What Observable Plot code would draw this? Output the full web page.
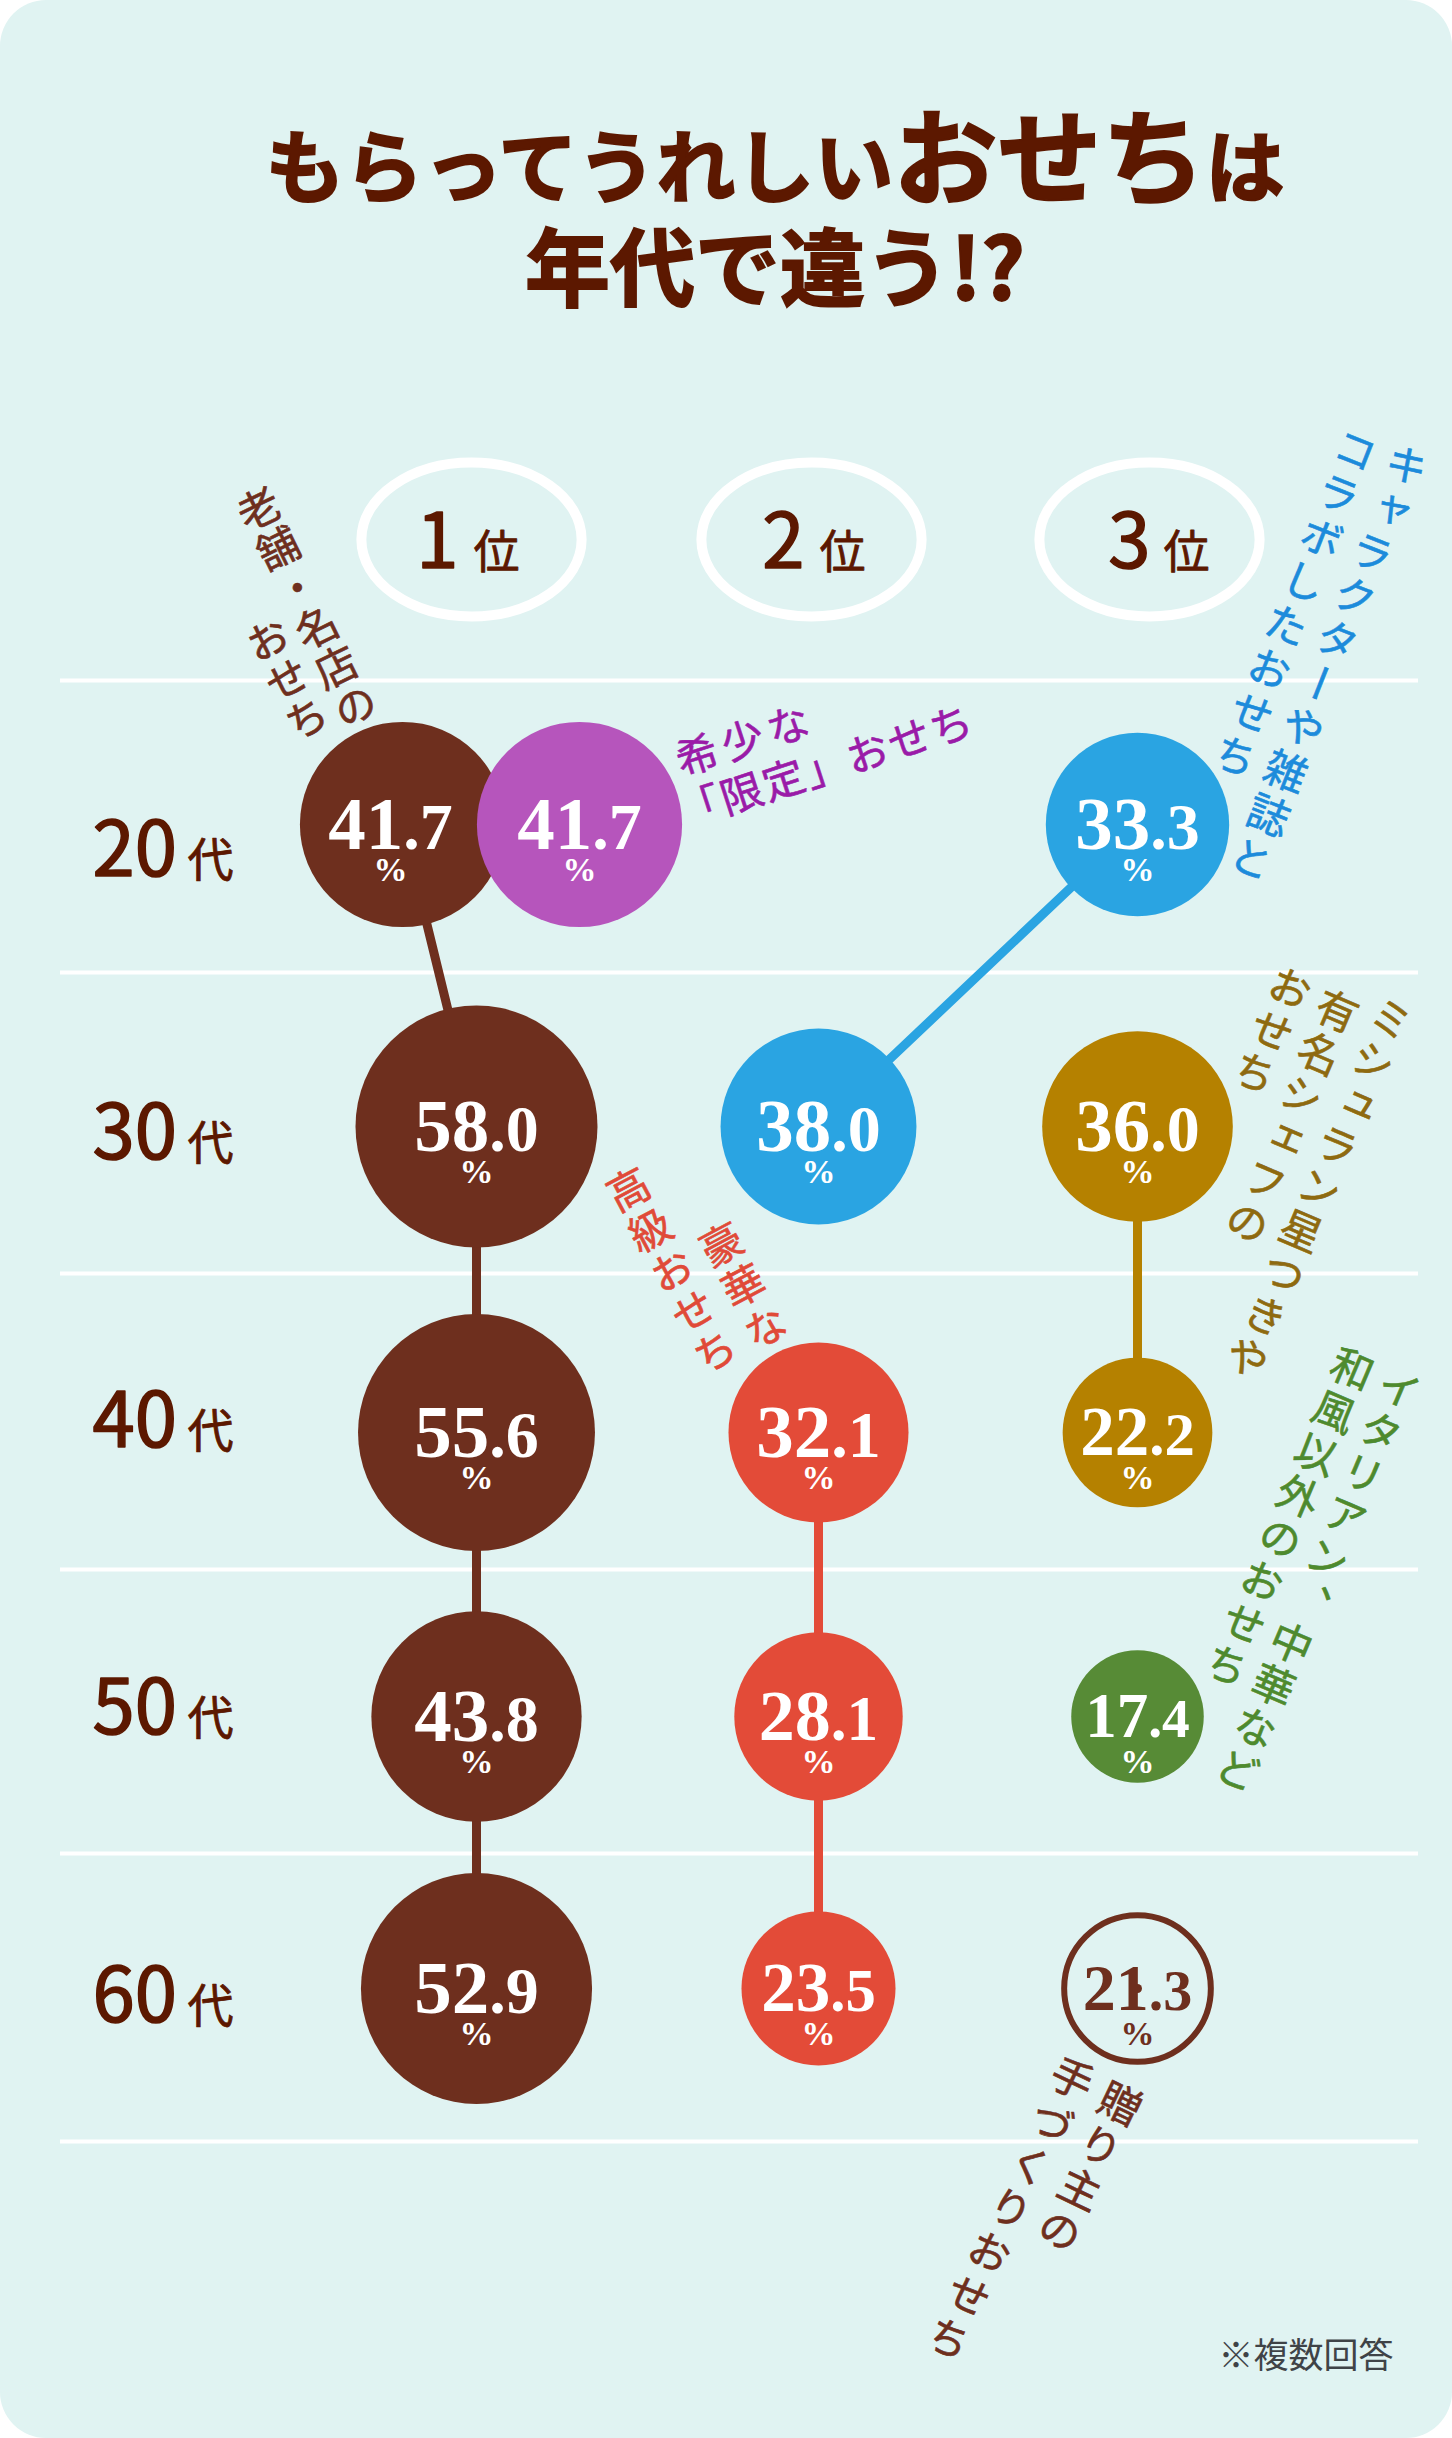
<!DOCTYPE html>
<html lang="ja">
<head>
<meta charset="utf-8">
<script src="https://cdn.jsdelivr.net/npm/d3@7"></script>
<script src="https://cdn.jsdelivr.net/npm/@observablehq/plot@0.6"></script>
<style>
  html, body { margin: 0; padding: 0; background: #fff; }
  #card { position: relative; width: 1452px; height: 2438px; background: #e0f3f2; border-radius: 46px; overflow: hidden; }
  #card svg { position: absolute; left: 0; top: 0; }
  #title { position: absolute; left: 98px; width: 1354px; top: 96px; margin: 0; z-index: 2; text-align: center; color: #5c1800;
    font-family: "Noto Sans CJK JP", sans-serif; font-weight: 700; font-size: 79px; line-height: 112px; -webkit-text-stroke: 2px #5c1800; }
  #title .big { font-size: 104px; }
  #title .l2 { font-size: 85px; display: block; margin-top: -12px; }
</style>
</head>
<body>
<div id="card">
  <h1 id="title"><span>もらってうれしい<span class="big">おせち</span>は</span><span class="l2">年代で違う!?</span></h1>
</div>
<script>
// ---------- data ----------
const ages = [20, 30, 40, 50, 60];
const rowLabels = ["20", "30", "40", "50", "60"];
const rankLabels = ["1", "2", "3"];

const seriesNames = ["老舗", "限定", "キャラ", "高級", "ミシュラン", "イタリアン", "手づくり"];

const shiniseAges = [20, 30, 40, 50, 60];
const shiniseRanks = [0.75, 1, 1, 1, 1];
const shiniseValues = [41.7, 58.0, 55.6, 43.8, 52.9];

const genteiAges = [20];
const genteiRanks = [1.25];
const genteiValues = [41.7];

const charaAges = [20, 30];
const charaRanks = [3, 2];
const charaValues = [33.3, 38.0];

const koukyuAges = [40, 50, 60];
const koukyuRanks = [2, 2, 2];
const koukyuValues = [32.1, 28.1, 23.5];

const michelinAges = [30, 40];
const michelinRanks = [3, 3];
const michelinValues = [36.0, 22.2];

const italianAges = [50];
const italianRanks = [3];
const italianValues = [17.4];

const tedukuriAges = [60];
const tedukuriRanks = [3];
const tedukuriValues = [21.3];

// ---------- styling ----------
const seriesFill = ["#6e2f1e", "#b655bc", "#2aa4e2", "#e34b38", "#b58100", "#578b36", "#6e2f1e"];
const BROWN = "#6e2f1e", DARK = "#5c1800";
const JP = "'Noto Sans CJK JP', sans-serif";
const SERIF = "'Liberation Serif', serif";

const table = [
  [shiniseAges, shiniseRanks, shiniseValues],
  [genteiAges, genteiRanks, genteiValues],
  [charaAges, charaRanks, charaValues],
  [koukyuAges, koukyuRanks, koukyuValues],
  [michelinAges, michelinRanks, michelinValues],
  [italianAges, italianRanks, italianValues],
  [tedukuriAges, tedukuriRanks, tedukuriValues]
].flatMap(([a, r, v], s) => a.map((age, i) => ({series: seriesNames[s], age, rank: r[i], value: v[i]})));

const hollow = d => d.series === "手づくり";
const solid = table.filter(d => !hollow(d));
const numberSize = d3.scaleThreshold([20, 24, 30], [63, 69, 72, 75]);
const labelRank = d => d.rank === 0.75 ? 0.7 : d.rank;
const ink = d => hollow(d) ? BROWN : "#fff";

// Ellipse symbol for the header rings
const ring = {draw(c, size) {
  const ry = Math.sqrt(size / Math.PI), rx = ry * 1.43, k = 0.5523;
  c.moveTo(rx, 0);
  c.bezierCurveTo(rx, k * ry, k * rx, ry, 0, ry);
  c.bezierCurveTo(-k * rx, ry, -rx, k * ry, -rx, 0);
  c.bezierCurveTo(-rx, -k * ry, -k * rx, -ry, 0, -ry);
  c.bezierCurveTo(k * rx, -ry, rx, -k * ry, rx, 0);
  c.closePath();
}};

// Tweak rendered text nodes
const tweak = fn => (i, s, v, d, c, next) => {
  const g = next(i, s, v, d, c);
  g.querySelectorAll("text").forEach(fn);
  return g;
};
const splitDecimal = t => {
  const str = t.textContent, at = str.indexOf(".");
  const size = parseFloat(t.getAttribute("font-size"));
  t.textContent = str.slice(0, at);
  const sp = document.createElementNS("http://www.w3.org/2000/svg", "tspan");
  sp.setAttribute("font-size", size * 0.88);
  sp.textContent = str.slice(at);
  t.appendChild(sp);
};
const vertical = ls => t => {
  t.style.writingMode = "vertical-rl";
  t.style.letterSpacing = ls + "px";
};
const spaced = ls => t => { t.style.letterSpacing = ls + "px"; };

const vlabel = (text, age, rank, dx, dy, rotate, fill, ls = 4, fontSize = 42) =>
  Plot.text([text], {x: () => rank, y: () => age, text: d => d, dx, dy, rotate, fill, stroke: fill, strokeWidth: 0.6, fontSize, fontFamily: JP,
    textAnchor: "start", lineAnchor: "bottom", render: tweak(vertical(ls))});
const hlabel = (text, age, rank, dx, dy, rotate, fill, ls = 3, fontSize = 42) =>
  Plot.text([text], {x: () => rank, y: () => age, text: d => d, dx, dy, rotate, fill, stroke: fill, strokeWidth: 0.6, fontSize, fontFamily: JP,
    textAnchor: "start", lineAnchor: "middle", render: tweak(spaced(ls))});

const rowShift = [51, 32, 14, 17, 33];
const headerOffset = [[-18, -3, -5], [-14, 1, -7], [13, 26, 12]];

const chart = Plot.plot({
  width: 1452,
  height: 2438,
  margin: 0,
  style: {background: "transparent", overflow: "visible"},
  x: {type: "linear", axis: null,
      domain: [0, 0.7, 0.75, 1, 1.25, 2, 3, 4],
      range: [60, 390, 402, 476, 579, 818, 1137, 1418]},
  y: {type: "linear", axis: null,
      domain: [10, 15, 20, 25, 30, 35, 40, 45, 50, 55, 60, 65, 70],
      range: [539, 680, 824, 972, 1126, 1273, 1432, 1569, 1716, 1853, 1988, 2141, 2356]},
  r: {type: "sqrt", domain: [0, 58], range: [0, 121]},
  color: {type: "ordinal", domain: seriesNames, range: seriesFill},
  marks: [
    // grid
    Plot.ruleY([15, 25, 35, 45, 55, 65], {x1: () => 0, x2: () => 4, stroke: "#fff", strokeWidth: 4}),
    // header rings
    ...rankLabels.map((label, i) => [
      Plot.dot([label], {x: () => i + 1, y: () => 10, dx: headerOffset[i][2], r: 77, symbol: ring, fill: "none", stroke: "#fff", strokeWidth: 10}),
      Plot.text([label], {x: () => i + 1, y: () => 10, dx: headerOffset[i][0], dy: 28, text: d => d, textAnchor: "end", lineAnchor: "bottom", fontSize: 76, fontFamily: JP, fill: DARK, stroke: DARK, strokeWidth: 1.6}),
      Plot.text(["位"], {x: () => i + 1, y: () => 10, dx: headerOffset[i][1], dy: 28, text: d => d, textAnchor: "start", lineAnchor: "bottom", fontSize: 46, fontFamily: JP, fill: DARK, stroke: DARK, strokeWidth: 0.8})
    ]),
    // row labels
    ...rowLabels.map((label, i) => [
      Plot.text([label], {x: () => 0, y: () => ages[i], dx: 32, dy: rowShift[i], text: d => d, textAnchor: "start", lineAnchor: "bottom", fontSize: 76, fontFamily: JP, fill: DARK, stroke: DARK, strokeWidth: 1.6}),
      Plot.text(["代"], {x: () => 0, y: () => ages[i], dx: 127, dy: rowShift[i], text: d => d, textAnchor: "start", lineAnchor: "bottom", fontSize: 46, fontFamily: JP, fill: DARK, stroke: DARK, strokeWidth: 0.8})
    ]),
    // connectors
    Plot.line(table, {x: "rank", y: "age", z: "series", stroke: "series", strokeWidth: 9}),
    // circles
    Plot.dot(solid, {x: "rank", y: "age", r: "value", fill: "series"}),
    Plot.dot(table.filter(hollow), {x: "rank", y: "age", r: "value", fill: "none", stroke: BROWN, strokeWidth: 6}),
    // values
    Plot.text(table, {x: labelRank, y: "age", text: d => d.value.toFixed(1), fill: ink, fontFamily: SERIF, fontWeight: 700,
      fontSize: d => hollow(d) ? 66 : numberSize(d.value), render: tweak(splitDecimal)}),
    Plot.text(table, {x: labelRank, y: "age", dy: 46, text: () => "%", fill: ink, fontFamily: SERIF, fontWeight: 700, fontSize: 34}),
    // series labels
    vlabel("老舗・名店の", 20, 0.75, -153, -335, -26, BROWN, 2),
    vlabel("おせち", 20, 0.75, -144, -204, -26, BROWN, 2),
    hlabel("希少な", 20, 1.25, 98, -61, -18, "#9a1ba8", 6),
    hlabel("「限定」おせち", 20, 1.25, 101, -9, -18, "#9a1ba8", 2),
    vlabel("キャラクターや雑誌と", 20, 3, 277, -379, 21.5, "#1c8bdb", 5),
    vlabel("コラボしたおせち", 20, 3, 226, -394, 21.5, "#1c8bdb", 5),
    vlabel("ミシュラン星つきや", 30, 3, 262, -127, 23, "#8e6a10", 4),
    vlabel("有名シェフの", 30, 3, 208, -135, 23, "#8e6a10", 4),
    vlabel("おせち", 30, 3, 161, -158, 23, "#8e6a10", 4),
    vlabel("イタリアン、中華など", 50, 3, 270, -347, 23, "#4e8a2e", 4),
    vlabel("和風以外のおせち", 50, 3, 223, -367, 23, "#4e8a2e", 4),
    vlabel("贈り主の", 60, 3, -8, 96, 25.5, BROWN, 5),
    vlabel("手づくりおせち", 60, 3, -56, 71, 25.5, BROWN, 6),
    vlabel("豪華な", 40, 2, -107, -207, -28, "#e04a38", 5),
    vlabel("高級おせち", 40, 2, -200, -262, -28, "#e04a38", 4),
    // note
    Plot.text(["※複数回答"], {x: () => 4, y: () => 70, dx: -25, text: d => d, textAnchor: "end", fontSize: 35, fontFamily: JP, fill: "#3f4347"})
  ]
});
document.getElementById("card").appendChild(chart);
</script>
</body>
</html>
